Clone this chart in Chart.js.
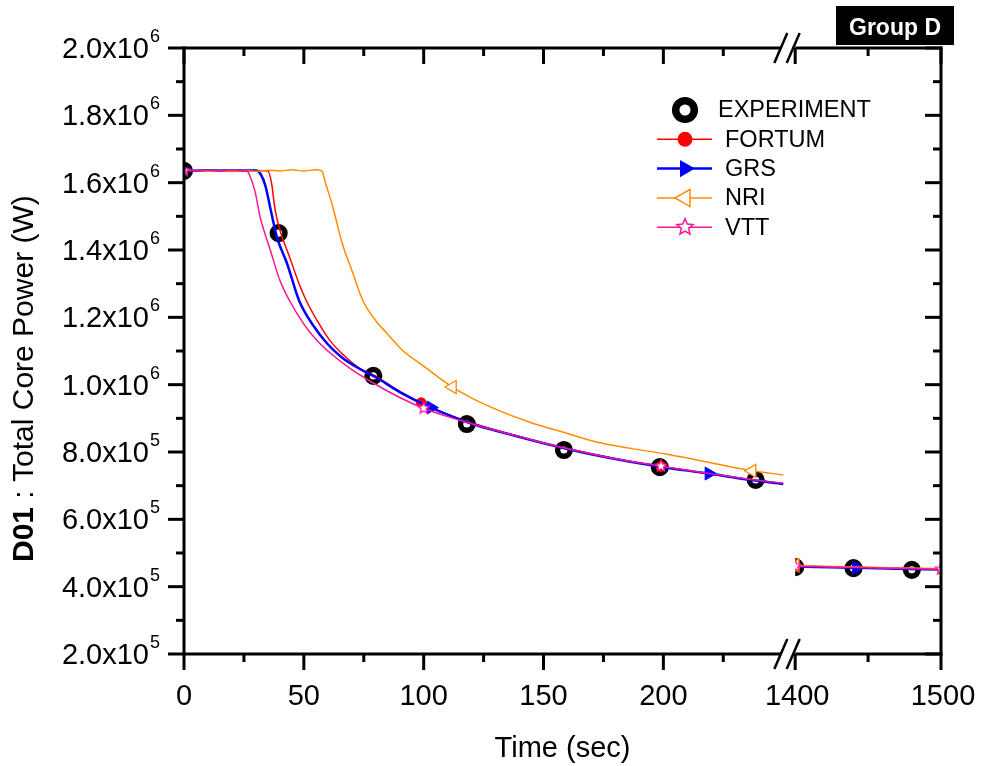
<!DOCTYPE html>
<html>
<head>
<meta charset="utf-8">
<script src="https://cdn.jsdelivr.net/npm/chart.js@4.4.1/dist/chart.umd.min.js"></script>
<style>
  html, body { margin: 0; padding: 0; background: #fff; }
</style>
</head>
<body>
<canvas id="myChart" width="981" height="766"></canvas>
<script>
const FONT = "'Liberation Sans', Arial, sans-serif";

// broken time axis: 0-255 s on the left part, 1400-1500 s on the right part
const breakAt = 1000;
const leftEnd = 249;
const leftTicks = [0, 50, 100, 150, 200];
const rightTicks = [1400, 1500];
const yTicks = [2e5, 4e5, 6e5, 8e5, 1e6, 1.2e6, 1.4e6, 1.6e6, 1.8e6, 2e6];

const expTime = [0, 39.5, 79, 118, 158.5, 198.5, 238.5, 1400, 1440, 1480];
const expPower = [1.635e6, 1.45e6, 1.026e6, 8.83e5, 8.06e5, 7.55e5, 7.17e5, 4.58e5, 4.55e5, 4.50e5];

const fortumTime = [0, 10, 20, 30, 35, 36.5, 38, 40, 44, 48, 51, 56, 61, 67, 73, 80, 90, 99, 110, 120, 135, 150, 165, 180, 199, 220, 235, 250,
  1400, 1425, 1450, 1475, 1500];
const fortumPower = [1.636e6, 1.636e6, 1.635e6, 1.636e6, 1.635e6, 1.60e6, 1.52e6, 1.46e6, 1.38e6, 1.30e6, 1.25e6, 1.185e6, 1.13e6, 1.085e6, 1.05e6, 1.025e6, 9.8e5, 9.46e5, 9.12e5, 8.86e5, 8.55e5, 8.27e5, 8.02e5, 7.8e5, 7.57e5, 7.34e5, 7.19e5, 7.06e5,
  4.61e5, 4.585e5, 4.56e5, 4.54e5, 4.52e5];
const fortumMarks = [99, 199, 1400];

const grsTime = [0, 10, 20, 30, 32, 34, 36, 38.7, 43, 48, 54, 60, 66, 73, 80, 90, 103, 120, 135, 150, 165, 180, 200, 219, 235, 250,
  1400, 1442, 1470, 1500];
const grsPower = [1.636e6, 1.636e6, 1.636e6, 1.636e6, 1.625e6, 1.59e6, 1.525e6, 1.44e6, 1.36e6, 1.25e6, 1.175e6, 1.12e6, 1.08e6, 1.048e6, 1.022e6, 9.78e5, 9.32e5, 8.84e5, 8.54e5, 8.26e5, 8.01e5, 7.79e5, 7.55e5, 7.36e5, 7.18e5, 7.05e5,
  4.60e5, 4.56e5, 4.535e5, 4.51e5];
const grsMarks = [0, 103, 219, 1442];

const nriTime = [0, 5, 10, 15, 20, 25, 30, 35, 40, 45, 50, 55, 57.5, 59, 62, 66, 70.5, 74.6, 80, 85, 91, 100, 112, 125, 144, 160, 173, 187, 201, 215, 229, 237, 250,
  1400, 1425, 1450, 1475, 1500];
const nriPower = [1.635e6, 1.637e6, 1.634e6, 1.636e6, 1.633e6, 1.636e6, 1.634e6, 1.637e6, 1.635e6, 1.638e6, 1.635e6, 1.638e6, 1.635e6, 1.60e6, 1.53e6, 1.42e6, 1.33e6, 1.25e6, 1.19e6, 1.15e6, 1.103e6, 1.055e6, 9.93e5, 9.43e5, 8.89e5, 8.55e5, 8.28e5, 8.1e5, 7.94e5, 7.75e5, 7.55e5, 7.44e5, 7.32e5,
  4.63e5, 4.60e5, 4.575e5, 4.555e5, 4.535e5];
const nriMarks = [112, 237, 1400];

const vttTime = [0, 10, 20, 26, 27.5, 29.6, 31.7, 36, 40, 44, 50, 55, 61, 70, 79, 90, 100, 110, 120, 135, 150, 165, 180, 199, 220, 235, 250,
  1400, 1425, 1450, 1475, 1500];
const vttPower = [1.636e6, 1.636e6, 1.636e6, 1.636e6, 1.62e6, 1.575e6, 1.50e6, 1.40e6, 1.31e6, 1.25e6, 1.18e6, 1.135e6, 1.094e6, 1.045e6, 1.005e6, 9.62e5, 9.3e5, 9.05e5, 8.84e5, 8.55e5, 8.27e5, 8.02e5, 7.8e5, 7.58e5, 7.35e5, 7.2e5, 7.07e5,
  4.61e5, 4.585e5, 4.565e5, 4.54e5, 4.52e5];
const vttMarks = [0, 100, 199, 1400, 1500];

const RED = '#ff0000', BLUE = '#0000ff', ORANGE = '#ff8c00', PINK = '#ff1493';

function starPath(ctx, cx, cy, r) {
  ctx.beginPath();
  for (let i = 0; i < 10; i++) {
    const rr = i % 2 === 0 ? r : r * 0.45;
    const a = -Math.PI / 2 + i * Math.PI / 5;
    const px = cx + rr * Math.cos(a), py = cy + rr * Math.sin(a);
    if (i === 0) ctx.moveTo(px, py); else ctx.lineTo(px, py);
  }
  ctx.closePath();
}

function makeStar(r, color) {
  const c = document.createElement('canvas');
  c.width = c.height = Math.ceil(2 * r + 4);
  const g = c.getContext('2d');
  starPath(g, c.width / 2, c.height / 2, r);
  g.fillStyle = '#fff';
  g.fill();
  g.strokeStyle = color;
  g.lineWidth = 1.3;
  g.stroke();
  return c;
}

function part(times, powers, rightSide) {
  const pts = [];
  times.forEach((t, i) => {
    if ((t >= breakAt) === rightSide) pts.push({x: t, y: powers[i]});
  });
  return pts;
}

function model(label, times, powers, marks, color, width, order, radius, pointOpts) {
  return [false, true].map(rightSide => {
    const pts = part(times, powers, rightSide);
    return Object.assign({
      label: label,
      data: pts,
      xAxisID: rightSide ? 'x2' : 'x',
      borderColor: color,
      borderWidth: width,
      order: order,
      clip: 0,
      cubicInterpolationMode: 'monotone',
      pointRadius: pts.map(p => marks.includes(p.x) ? radius : 0)
    }, pointOpts);
  });
}

function experiment(rightSide) {
  return {
    label: 'EXPERIMENT',
    data: part(expTime, expPower, rightSide),
    xAxisID: rightSide ? 'x2' : 'x',
    showLine: false,
    order: 10,
    clip: 0,
    pointStyle: 'circle',
    pointRadius: 6.3,
    pointBorderWidth: 5.5,
    pointBorderColor: '#000',
    pointBackgroundColor: 'rgba(0,0,0,0)'
  };
}

const starImg = makeStar(6, PINK);

const datasets = [
  experiment(false), experiment(true),
  ...model('FORTUM', fortumTime, fortumPower, fortumMarks, RED, 1.5, 4, 5,
    {pointStyle: 'circle', pointBackgroundColor: RED, pointBorderColor: RED, pointBorderWidth: 1}),
  ...model('GRS', grsTime, grsPower, grsMarks, BLUE, 2.5, 3, 7.5,
    {pointStyle: 'triangle', pointRotation: 90, pointBackgroundColor: BLUE, pointBorderColor: BLUE, pointBorderWidth: 1}),
  ...model('NRI', nriTime, nriPower, nriMarks, ORANGE, 1.5, 2, 7.5,
    {pointStyle: 'triangle', pointRotation: -90, pointBackgroundColor: '#fff', pointBorderColor: ORANGE, pointBorderWidth: 1.3}),
  ...model('VTT', vttTime, vttPower, vttMarks, PINK, 1.5, 1, 6,
    {pointStyle: starImg})
];

// legend entries drawn by hand (line + marker like the original)
const legendRows = [
  {label: 'EXPERIMENT', kind: 'exp'},
  {label: 'FORTUM', kind: 'dot', color: RED},
  {label: 'GRS', kind: 'right', color: BLUE},
  {label: 'NRI', kind: 'left', color: ORANGE},
  {label: 'VTT', kind: 'star', color: PINK}
];

function triangle(ctx, cx, cy, r, dir) {
  ctx.beginPath();
  for (let i = 0; i < 3; i++) {
    const a = (dir > 0 ? 0 : Math.PI) + i * 2 * Math.PI / 3;
    const px = cx + r * Math.cos(a), py = cy + r * Math.sin(a);
    if (i === 0) ctx.moveTo(px, py); else ctx.lineTo(px, py);
  }
  ctx.closePath();
}

const framePlugin = {
  id: 'frame',
  afterDatasetsDraw(chart) {
    const ctx = chart.ctx;
    const area = chart.chartArea;
    const xa = chart.scales.x, xb = chart.scales.x2, ys = chart.scales.y;
    const gapL = xa.getPixelForValue(leftEnd);
    const gapR = xb.left;
    const seg = (x1, y1, x2, y2) => { ctx.beginPath(); ctx.moveTo(x1, y1); ctx.lineTo(x2, y2); ctx.stroke(); };

    ctx.save();
    ctx.strokeStyle = '#000';
    ctx.lineWidth = 3;

    // frame with the break
    [area.top, area.bottom].forEach(yy => {
      seg(area.left, yy, gapL, yy);
      seg(gapR, yy, area.right + 1.5, yy);
    });
    seg(area.left, area.top - 1.5, area.left, area.bottom + 1.5);
    seg(area.right, area.top - 1.5, area.right, area.bottom + 1.5);

    // x ticks: outside at the bottom, inside at the top
    const xTick = (px, major) => {
      const len = major ? 16 : 8;
      seg(px, area.bottom, px, area.bottom + len);
      seg(px, area.top, px, area.top + len);
    };
    for (let t = 0; t <= 225; t += 25) xTick(xa.getPixelForValue(t), t % 50 === 0);
    for (let t = 1400; t <= 1500; t += 50) xTick(xb.getPixelForValue(t), t % 100 === 0);

    // y ticks: outside on the left, inside on the right
    for (let i = 2; i <= 20; i++) {
      const py = ys.getPixelForValue(i * 1e5);
      const len = i % 2 === 0 ? 16 : 8;
      seg(area.left - len, py, area.left, py);
      seg(area.right - len, py, area.right, py);
    }

    // break marks
    ctx.lineWidth = 2.5;
    [area.top, area.bottom].forEach(yy => {
      [gapL, gapR - 2].forEach(cx => seg(cx - 6.5, yy + 15, cx + 6.5, yy - 15));
    });

    // tick labels
    ctx.fillStyle = '#000';
    ctx.font = '29px ' + FONT;
    ctx.textAlign = 'center';
    ctx.textBaseline = 'alphabetic';
    leftTicks.forEach(t => ctx.fillText(String(t), xa.getPixelForValue(t), area.bottom + 51));
    rightTicks.forEach(t => ctx.fillText(String(t), xb.getPixelForValue(t) + 2, area.bottom + 51));

    ctx.textAlign = 'right';
    const labelRight = area.left - 24;
    yTicks.forEach(v => {
      const exp = Math.floor(Math.log10(v) + 1e-9);
      const mant = (v / Math.pow(10, exp)).toFixed(1);
      const py = ys.getPixelForValue(v);
      ctx.font = '18px ' + FONT;
      const sup = String(exp);
      ctx.fillText(sup, labelRight, py - 6);
      const sw = ctx.measureText(sup).width;
      ctx.font = '29px ' + FONT;
      ctx.fillText(mant + 'x10', labelRight - sw - 1, py + 10);
    });

    // axis titles
    ctx.textAlign = 'center';
    ctx.font = '29px ' + FONT;
    ctx.fillText('Time (sec)', (area.left + area.right) / 2, 757);

    ctx.save();
    ctx.translate(33, 562);
    ctx.rotate(-Math.PI / 2);
    ctx.textAlign = 'left';
    ctx.font = 'bold 30px ' + FONT;
    ctx.fillText('D01', 0, 0);
    const bw = ctx.measureText('D01').width;
    ctx.font = '30px ' + FONT;
    ctx.fillText(' : Total Core Power (W)', bw, 0);
    ctx.restore();

    // legend
    const lx = 685, ly = 110, step = 29.3;
    legendRows.forEach((row, i) => {
      const cy = ly + i * step;
      ctx.textAlign = 'left';
      ctx.textBaseline = 'middle';
      ctx.font = '23.5px ' + FONT;
      ctx.fillStyle = '#000';
      if (row.kind === 'exp') {
        ctx.lineWidth = 7.5;
        ctx.strokeStyle = '#000';
        ctx.beginPath();
        ctx.arc(lx, cy, 9.3, 0, Math.PI * 2);
        ctx.stroke();
        ctx.fillText(row.label, 718, cy + 1);
        return;
      }
      ctx.lineWidth = row.kind === 'right' ? 2.5 : 1.5;
      ctx.strokeStyle = row.color;
      seg(657, cy, 712, cy);
      ctx.lineWidth = 1.5;
      if (row.kind === 'dot') {
        ctx.fillStyle = row.color;
        ctx.beginPath();
        ctx.arc(lx, cy, 7.5, 0, Math.PI * 2);
        ctx.fill();
      } else if (row.kind === 'right') {
        ctx.fillStyle = row.color;
        triangle(ctx, lx, cy, 10, 1);
        ctx.fill();
      } else if (row.kind === 'left') {
        ctx.fillStyle = '#fff';
        triangle(ctx, lx, cy, 10, -1);
        ctx.fill();
        ctx.stroke();
      } else {
        ctx.fillStyle = '#fff';
        starPath(ctx, lx, cy, 8.5);
        ctx.fill();
        ctx.stroke();
      }
      ctx.fillStyle = '#000';
      ctx.fillText(row.label, 725, cy + 1);
    });

    // group tag
    ctx.fillStyle = '#000';
    ctx.fillRect(836, 6, 118, 39);
    ctx.fillStyle = '#fff';
    ctx.font = 'bold 23px ' + FONT;
    ctx.textAlign = 'center';
    ctx.textBaseline = 'alphabetic';
    ctx.fillText('Group D', 895, 35);

    ctx.restore();
  }
};

Chart.defaults.font.family = FONT;

const chrt = document.getElementById('myChart');
new Chart(chrt, {
  type: 'line',
  data: {datasets: datasets},
  options: {
    responsive: false,
    animation: false,
    devicePixelRatio: 1,
    events: [],
    layout: {padding: {left: 184, right: 40, top: 48, bottom: 112}},
    elements: {line: {tension: 0}},
    scales: {
      x: {type: 'linear', min: 0, max: 255, display: false, position: 'bottom', stack: 'time', stackWeight: 612},
      x2: {type: 'linear', min: 1400, max: 1500, display: false, position: 'bottom', stack: 'time', stackWeight: 146},
      y: {type: 'linear', min: 2e5, max: 2e6, display: false}
    },
    plugins: {
      legend: {display: false},
      tooltip: {enabled: false}
    }
  },
  plugins: [framePlugin]
});
</script>
</body>
</html>
